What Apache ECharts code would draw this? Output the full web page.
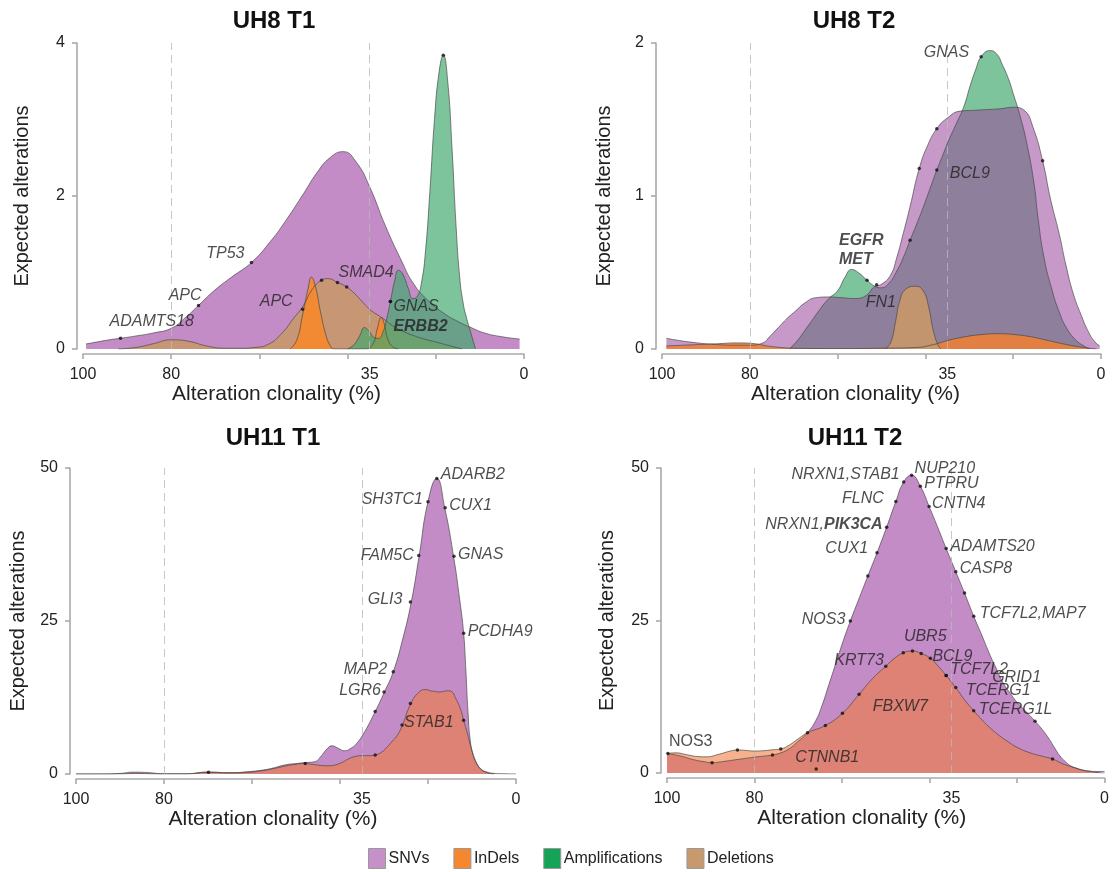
<!DOCTYPE html>
<html><head><meta charset="utf-8">
<script src="https://cdn.jsdelivr.net/npm/echarts@6/dist/echarts.min.js"></script>
<style>html,body{margin:0;padding:0;background:#fff}#c{width:1112px;height:872px}</style>
</head><body><div id="c"></div>
<script>
// ---------------- DATA ----------------
const panelTitles = ['UH8 T1', 'UH8 T2', 'UH11 T1', 'UH11 T2'];
const xTickLabels = [100, 80, 35, 0];
const xTickMarks = [100, 80, 60, 40, 20, 0];
const cutoffs = [80, 35];
const yMax = [4, 2, 50, 50];
const yStep = [2, 1, 25, 25];
const seriesNames = ['SNVs', 'InDels', 'Amplifications', 'Deletions'];

// UH8 T1
const uh8t1SnvX = [99.3, 97, 94, 91.5, 88, 84, 80, 77, 73.8, 70.3, 66.3, 61.8, 57.3, 54, 50, 47, 44, 41, 38, 35, 31.5, 28, 25, 21.5, 18, 15, 12, 9, 5, 1];
const uh8t1SnvY = [0.065, 0.09, 0.12, 0.14, 0.17, 0.21, 0.27, 0.4, 0.57, 0.76, 0.94, 1.13, 1.42, 1.68, 2.03, 2.3, 2.5, 2.58, 2.44, 2.12, 1.62, 1.18, 0.85, 0.62, 0.46, 0.36, 0.28, 0.21, 0.16, 0.13];
const uh8t1DelX = [92, 88, 84, 80, 76, 72, 68, 64, 61, 58, 55, 52, 50.2, 48, 45.9, 44.5, 42.3, 40.2, 38, 35, 32, 29.7, 27, 24.8, 22, 19.9, 16.7, 14];
const uh8t1DelY = [0, 0.02, 0.07, 0.12, 0.1, 0.04, 0.01, 0.01, 0.02, 0.06, 0.2, 0.42, 0.55, 0.78, 0.9, 0.92, 0.87, 0.81, 0.7, 0.52, 0.4, 0.3, 0.22, 0.17, 0.12, 0.09, 0.04, 0];
const uh8t1IndX = [53, 51.5, 50.2, 49, 48.2, 47.3, 46.2, 45, 44, 43, 40, 36, 34.3, 33.2, 32.4, 31.7, 31, 30, 28.5];
const uh8t1IndY = [0, 0.12, 0.45, 0.78, 0.94, 0.82, 0.5, 0.2, 0.05, 0, 0, 0, 0.06, 0.28, 0.41, 0.33, 0.15, 0.04, 0];
const uh8t1AmpX = [40, 38.5, 37.2, 36.2, 35.2, 34, 33, 32, 31.2, 30.3, 29.3, 28.5, 27.5, 26.3, 25.2, 24.3, 23.3, 22.3, 21.3, 20.3, 19.3, 18.3, 17.3, 16.3, 15.4, 14.6, 13.8, 13, 12, 11];
const uh8t1AmpY = [0, 0.06, 0.18, 0.28, 0.24, 0.15, 0.14, 0.22, 0.38, 0.62, 0.9, 1.03, 0.98, 0.8, 0.66, 0.68, 0.85, 1.3, 2.1, 3.0, 3.6, 3.84, 3.5, 2.6, 1.6, 0.95, 0.6, 0.4, 0.2, 0];
const uh8t1Genes = [['ADAMTS18', 91.5, 0.14], ['APC', 73.8, 0.57], ['TP53', 61.8, 1.13], ['APC', 50.2, 0.52], ['', 45.9, 0.9], ['SMAD4', 42.3, 0.87], ['', 40.2, 0.81], ['GNAS', 30.3, 0.62], ['{b|ERBB2}', 30.3, 0.62], ['', 18.3, 3.84]];

// UH8 T2
const uh8t2SnvX = [99, 96, 92, 88, 84, 80, 77, 75.5, 73.5, 71.5, 69.5, 67.5, 65, 62, 59, 56, 53.5, 51.5, 50.2, 48, 46.5, 45, 43.5, 41.4, 39.5, 37.4, 35, 32, 29, 26, 23, 20, 17.5, 15.5, 13.3, 11.5, 9.5, 8, 6.3, 4.5, 3, 1.5, 0.3];
const uh8t2SnvY = [0.07, 0.055, 0.04, 0.03, 0.025, 0.025, 0.04, 0.08, 0.14, 0.2, 0.25, 0.3, 0.335, 0.34, 0.335, 0.33, 0.35, 0.41, 0.42, 0.48, 0.6, 0.76, 0.93, 1.18, 1.33, 1.44, 1.51, 1.555, 1.56, 1.565, 1.57, 1.58, 1.56, 1.45, 1.23, 0.98, 0.75, 0.55, 0.36, 0.22, 0.12, 0.05, 0.02];
const uh8t2AmpX = [71, 69.3, 67.5, 66, 64, 62, 60, 58.3, 56.8, 55.3, 53.3, 51.5, 50, 48.3, 46.7, 45, 43.5, 41.8, 40.2, 38.8, 37.4, 36, 34.6, 33, 31.3, 29.8, 28.5, 27.3, 25.3, 23.8, 22.5, 21, 20, 18.4, 16.8, 15.2, 14.4, 13, 11.1, 9.5, 7.9, 5.8, 3.9, 2.5];
const uh8t2AmpY = [0, 0.05, 0.12, 0.18, 0.26, 0.33, 0.38, 0.47, 0.52, 0.5, 0.45, 0.41, 0.4, 0.43, 0.5, 0.6, 0.71, 0.83, 0.95, 1.06, 1.17, 1.27, 1.37, 1.47, 1.58, 1.72, 1.83, 1.91, 1.95, 1.93, 1.86, 1.76, 1.67, 1.52, 1.33, 1.07, 0.87, 0.6, 0.38, 0.24, 0.14, 0.06, 0.02, 0];
const uh8t2DelX = [49, 47.8, 46.8, 45.8, 44.5, 42.2, 40.5, 39.3, 38.2, 37.2, 36.5];
const uh8t2DelY = [0, 0.05, 0.18, 0.32, 0.39, 0.41, 0.38, 0.28, 0.12, 0.03, 0];
const uh8t2IndX = [99, 95, 91, 87, 83, 79, 76, 73, 70, 60, 50, 42, 38, 35, 31, 27, 23.5, 20, 16, 12, 8, 4, 1];
const uh8t2IndY = [0.02, 0.025, 0.03, 0.035, 0.04, 0.035, 0.02, 0.01, 0.005, 0.003, 0.005, 0.01, 0.03, 0.055, 0.08, 0.095, 0.1, 0.095, 0.08, 0.055, 0.03, 0.01, 0];
const uh8t2Genes = [['GNAS', 27.3, 1.91], ['{b|EGFR}\n{b|MET}', 53.3, 0.45], ['FN1', 51.1, 0.42], ['BCL9', 37.4, 1.17], ['', 37.4, 1.44], ['', 41.4, 1.18], ['', 43.5, 0.71], ['', 13.3, 1.23]];

// UH11 T1
const uh11t1SnvX = [100, 95, 90, 87, 84, 80, 75, 70, 65, 60.5, 58, 55.6, 52.4, 50, 48.3, 45.8, 44.2, 43.2, 41.8, 40.4, 39, 37.5, 36.2, 34.4, 32, 29.9, 27.9, 25.8, 23.8, 22, 20, 18, 16.2, 14.2, 12.8, 11.9, 11.4, 10.9, 10.4, 9.7, 8.8, 7.8, 6.5, 5, 3, 0];
const uh11t1SnvY = [0, 0, 0.1, 0.3, 0.25, 0.05, 0.05, 0.3, 0.2, 0.4, 0.6, 0.9, 1.5, 1.7, 1.85, 2.0, 3.0, 3.9, 4.6, 4.2, 3.8, 4.2, 5.0, 6.9, 10.2, 13.4, 16.7, 21.9, 28.1, 35.7, 44.5, 48.3, 43.5, 35.6, 28.5, 23, 17, 10, 5.5, 3, 1.5, 0.7, 0.3, 0.1, 0.03, 0];
const uh11t1IndX = [100, 90, 86, 82, 75, 70, 65, 60.5, 58, 55.6, 52.4, 50, 48.3, 46, 44.3, 42.5, 41, 39.5, 38, 36.9, 35, 33.6, 32, 30.5, 29.3, 28.2, 27, 25.8, 23.9, 22, 20.5, 19.5, 18.5, 17.5, 16.5, 15.5, 14.5, 13.8, 12.7, 11.9, 11, 10.2, 9.2, 8, 6.5, 5];
const uh11t1IndY = [0, 0, 0.1, 0, 0, 0.3, 0.2, 0.3, 0.5, 0.8, 1.3, 1.6, 1.7, 1.55, 1.4, 1.35, 1.5, 1.9, 2.5, 2.8, 3.0, 3.0, 3.1, 3.6, 4.4, 5.3, 6.3, 8.0, 11.5, 13.4, 13.8, 13.6, 13.5, 13.4, 13.5, 13.6, 13.4, 12.5, 10.8, 8.8, 6.5, 4.3, 2.2, 0.8, 0.2, 0];
const uh11t1Genes = [['ADARB2', 18, 48.3], ['SH3TC1', 20, 44.5], ['CUX1', 16.1, 43.5], ['FAM5C', 22.1, 35.7], ['GNAS', 14.1, 35.6], ['GLI3', 24, 28.1], ['PCDHA9', 11.9, 23], ['MAP2', 27.9, 16.7], ['LGR6', 30, 13.4], ['STAB1', 25.9, 8], ['', 32, 10.2], ['', 24, 11.5], ['', 11.9, 8.8], ['', 32, 3.1], ['', 47.9, 1.7], ['', 69.9, 0.3]];

// UH11 T2
const uh11t2SnvX = [100, 97, 94, 91.5, 89.7, 87, 84, 80, 77.5, 75.9, 74, 72, 70.3, 67.9, 66, 64.6, 63, 61.4, 59.8, 58.1, 56, 54.1, 52, 49.8, 47.7, 45.9, 44.1, 42.1, 40.1, 38.2, 36.2, 34, 32, 29.9, 28, 26.4, 24.8, 23.2, 21.5, 19.9, 18, 15.9, 14.2, 12.6, 11.4, 10.2, 9, 7.8, 6.5, 5.3, 3.5, 1.5, 0];
const uh11t2SnvY = [3.2, 2.8, 2.2, 1.85, 1.7, 1.9, 2.2, 2.6, 2.8, 2.95, 3.3, 4.0, 5.0, 6.6, 8.6, 11, 14.5, 18, 21.5, 24.9, 28.8, 32.3, 36.1, 40.3, 44.5, 47.7, 48.8, 47, 43.7, 40.4, 36.8, 33, 29.5, 25.7, 22.5, 19.7, 17.2, 14.8, 13, 11.5, 10.1, 8.5, 7.1, 5.5, 4.1, 2.8, 1.9, 1.2, 0.8, 0.5, 0.3, 0.25, 0.25];
const uh11t2IndX = [100, 98, 95.5, 93, 91, 88, 85.5, 83.9, 82, 80.3, 78, 76, 74, 72, 70, 67.9, 63.8, 59.9, 56.1, 53, 50, 48, 46, 43.9, 41.9, 39.8, 38, 36.2, 34, 32, 29.9, 28, 26, 24, 22, 20, 17, 14, 11.9, 9.5, 7, 5, 3.5, 2, 0];
const uh11t2IndY = [3.2, 3.3, 3.0, 2.7, 2.65, 3.1, 3.6, 3.76, 3.7, 3.6, 3.65, 3.8, 3.95, 4.6, 5.6, 6.6, 7.8, 9.8, 12.9, 15.5, 17.5, 18.8, 19.7, 20.0, 19.6, 18.8, 17.5, 16, 14, 12, 10.2, 8.7, 7.3, 6.1, 5.1, 4.2, 3.3, 2.7, 2.3, 1.5, 0.9, 0.5, 0.3, 0.1, 0];
const uh11t2Genes = [['NUP210', 44.1, 48.8], ['NRXN1,STAB1', 45.9, 47.7], ['PTPRU', 42.1, 47], ['FLNC', 47.7, 44.5], ['CNTN4', 40.1, 43.7], ['NRXN1,{b|PIK3CA}', 49.8, 40.3], ['CUX1', 52, 36.1], ['ADAMTS20', 36.2, 36.8], ['CASP8', 34, 33], ['NOS3', 58.1, 24.9], ['TCF7L2,MAP7', 29.9, 25.7], ['UBR5', 41.9, 19.6], ['KRT73', 50, 17.5], ['BCL9', 39.8, 18.8], ['TCF7L2', 36.2, 16], ['GRID1', 36.2, 16], ['TCERG1', 34, 14], ['TCERG1L', 29.9, 10.2], ['FBXW7', 46, 19.7], ['CTNNB1', 65.9, 0.65], ['NOS3', 99.8, 3.2], ['', 89.7, 1.7], ['', 83.9, 3.76], ['', 75.9, 2.95], ['', 74, 3.95], ['', 67.9, 6.6], ['', 63.8, 7.8], ['', 59.9, 9.8], ['', 56.1, 12.9], ['', 54.1, 32.3], ['', 32, 29.5], ['', 43.9, 20], ['', 11.9, 2.3], ['', 15.9, 8.5]];

// ---------------- LAYOUT / STYLE ----------------
const FONT = "'Liberation Sans', Arial, Helvetica, sans-serif";
const TXT = '#222';
const AXC = '#a9a9a9';
const grids = [
  {left: 83, top: 43, width: 441, height: 306},
  {left: 662, top: 43, width: 439, height: 306},
  {left: 76, top: 468, width: 440, height: 306},
  {left: 667, top: 468, width: 438, height: 305}
];
const titlePos = [[274, 21], [854, 21], [273, 438], [855, 438]];
const xNamePad = [[0, 54, 0, 0], [0, 52, 0, 0], [0, 46, 0, 0], [0, 48, 0, 0]];
const yNameGap = [45, 42, 42, 44];
// label placement: [align, dx, dy, fontStyle]
const uh8t1Lab = [['left', -11, -17], ['right', 3, -10], ['right', -7, -9], ['right', -10, -8], null, ['left', 1, -10], null, ['left', 3, 5], ['left', 3, 25], null];
const uh8t2Lab = [['right', -12, -4], ['left', -28, -30], ['left', -11, 18], ['left', 13, 4], null, null, null, null];
const uh11t1Lab = [['left', 4, -4], ['right', -5, -2], ['left', 4, -2], ['right', -5, 0], ['left', 4, -2], ['right', -8, -2], ['left', 4, -2], ['right', -6, -2], ['right', -3, -1], ['left', 2, -2]];
const uh11t2Lab = [['left', 3, -7], ['right', -4, -7], ['left', 4, -3], ['right', -12, -3], ['left', 3, -3], ['right', -4, -3], ['right', -9, -4], ['left', 4, -2], ['left', 4, -3], ['right', -5, -2], ['left', 6, -3], ['center', 4, -17], ['right', -2, -6], ['left', 2, -2], ['left', 4, -6], ['left', 46, 2], ['left', 10, 3], ['left', 5, -1], ['center', -3, 54], ['left', -21, -11], ['left', 1, -12, 'normal']];

const legendColors = {SNVs: '#C690C8', InDels: '#F5882F', Amplifications: '#15A358', Deletions: '#C79A6E'};

const pts = (xs, ys) => xs.map((x, i) => [x, ys[i]]);

function area(name, gi, xs, ys, color, opacity) {
  return {
    type: 'line', name, xAxisIndex: gi, yAxisIndex: gi, data: pts(xs, ys),
    smooth: 0.5, symbol: 'none', silent: true,
    itemStyle: {color: legendColors[name]},
    lineStyle: {color: '#454545', width: 0.8, opacity: 0.85},
    areaStyle: {color, opacity},
    emphasis: {disabled: true}
  };
}
function dots(gi, genes, lab) {
  return {
    type: 'scatter', xAxisIndex: gi, yAxisIndex: gi, symbolSize: 3.5, silent: true, z: 10,
    itemStyle: {color: '#111'},
    label: {
      formatter: p => p.data.text, fontSize: 16, fontFamily: FONT, color: TXT, fontStyle: 'italic', lineHeight: 19,
      rich: {b: {fontWeight: 'bold', fontStyle: 'italic', fontSize: 16, fontFamily: FONT, color: TXT, lineHeight: 19}}
    },
    emphasis: {disabled: true},
    data: genes.map((g, k) => {
      const L = lab[k];
      const it = {value: [g[1], g[2]], text: g[0], label: {show: false}};
      if (L && g[0]) it.label = {show: true, position: 'inside', align: L[0], verticalAlign: 'middle', offset: [L[1], L[2]], fontStyle: L[3] || 'italic'};
      return it;
    })
  };
}
function cutLines(gi) {
  return {
    type: 'line', xAxisIndex: gi, yAxisIndex: gi, data: [], z: 8, silent: true,
    markLine: {silent: true, symbol: ['none', 'none'], label: {show: false}, animation: false,
      lineStyle: {color: 'rgba(185,185,185,0.8)', type: [8, 5], width: 1},
      data: cutoffs.map(v => ({xAxis: v}))}
  };
}

const series = [
  // UH8 T1
  area('SNVs', 0, uh8t1SnvX, uh8t1SnvY, '#C48CC6', 1),
  area('Deletions', 0, uh8t1DelX, uh8t1DelY, '#C8976A', 0.9),
  area('InDels', 0, uh8t1IndX, uh8t1IndY, '#F5892F', 0.92),
  area('Amplifications', 0, uh8t1AmpX, uh8t1AmpY, '#40A86D', 0.68),
  cutLines(0), dots(0, uh8t1Genes, uh8t1Lab),
  // UH8 T2
  area('Amplifications', 1, uh8t2AmpX, uh8t2AmpY, '#7DC49C', 1),
  area('SNVs', 1, uh8t2SnvX, uh8t2SnvY, '#9C4A9E', 0.56),
  area('InDels', 1, uh8t2IndX, uh8t2IndY, '#EE7F35', 0.88),
  area('Deletions', 1, uh8t2DelX, uh8t2DelY, '#C8976A', 0.92),
  cutLines(1), dots(1, uh8t2Genes, uh8t2Lab),
  // UH11 T1
  area('SNVs', 2, uh11t1SnvX, uh11t1SnvY, '#C48CC6', 1),
  area('InDels', 2, uh11t1IndX, uh11t1IndY, '#F07B38', 0.58),
  cutLines(2), dots(2, uh11t1Genes, uh11t1Lab),
  // UH11 T2
  area('SNVs', 3, uh11t2SnvX, uh11t2SnvY, '#C48CC6', 1),
  area('InDels', 3, uh11t2IndX, uh11t2IndY, '#F07B38', 0.58),
  cutLines(3), dots(3, uh11t2Genes, uh11t2Lab)
];

const xAxes = grids.map((g, i) => ({
  type: 'value', gridIndex: i, min: 0, max: 100, interval: 20, inverse: true, offset: 5,
  axisLine: {show: true, onZero: false, lineStyle: {color: AXC, width: 1.6}},
  axisTick: {show: true, length: 5, customValues: xTickMarks, lineStyle: {color: AXC, width: 1.6}},
  axisLabel: {customValues: xTickLabels, fontSize: 16, color: TXT, fontFamily: FONT, margin: 13},
  splitLine: {show: false},
  name: 'Alteration clonality (%)', nameLocation: 'middle', nameGap: 29,
  nameTextStyle: {fontSize: 21, color: TXT, fontFamily: FONT, padding: xNamePad[i]}
}));
const yAxes = grids.map((g, i) => ({
  type: 'value', gridIndex: i, min: 0, max: yMax[i], interval: yStep[i], offset: 6,
  axisLine: {show: true, onZero: false, lineStyle: {color: AXC, width: 1.6}},
  axisTick: {show: true, length: 5, lineStyle: {color: AXC, width: 1.6}},
  axisLabel: {fontSize: 16, color: TXT, fontFamily: FONT, margin: 12},
  splitLine: {show: false},
  name: 'Expected alterations', nameLocation: 'middle', nameGap: yNameGap[i],
  nameTextStyle: {fontSize: 20, color: TXT, fontFamily: FONT}
}));

const chart = echarts.init(document.getElementById('c'), null, {renderer: 'canvas'});
chart.setOption({
  animation: false,
  backgroundColor: '#fff',
  grid: grids,
  xAxis: xAxes,
  yAxis: yAxes,
  series,
  legend: {
    left: 368, top: 848, padding: 0, itemGap: 24, itemWidth: 17, itemHeight: 20, icon: 'rect', selectedMode: false,
    textStyle: {fontSize: 16, color: TXT, fontFamily: FONT, padding: [0, 0, 0, -2]},
    data: seriesNames.map(n => ({name: n, itemStyle: {color: legendColors[n], borderColor: '#999', borderWidth: 1}, lineStyle: {opacity: 0, width: 0}}))
  },
  graphic: panelTitles.map((t, i) => ({
    type: 'text', x: titlePos[i][0], y: titlePos[i][1], silent: true,
    style: {text: t, fontSize: 24, fontWeight: 'bold', fontFamily: FONT, fill: '#111', align: 'center', verticalAlign: 'middle'}
  }))
});
</script>
</body></html>
